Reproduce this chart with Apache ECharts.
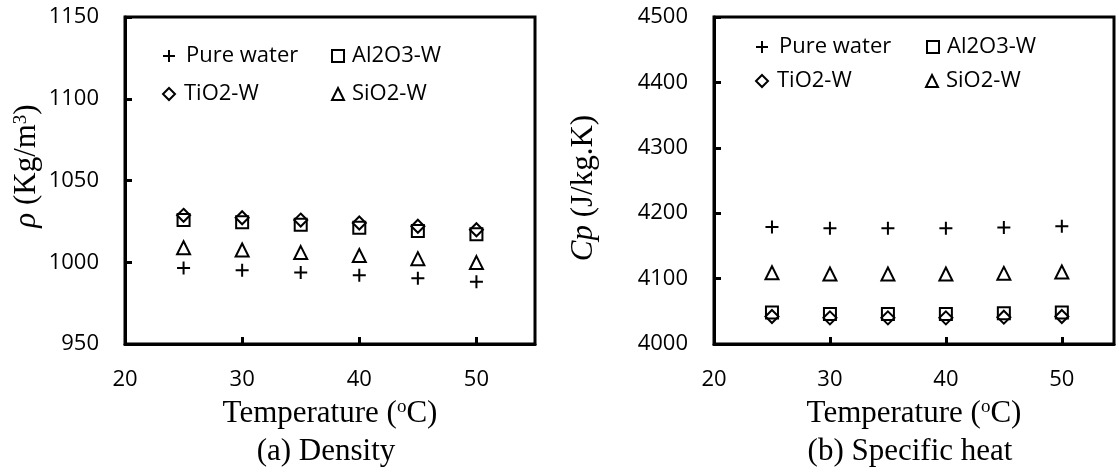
<!DOCTYPE html>
<html>
<head>
<meta charset="utf-8">
<script src="https://cdn.jsdelivr.net/npm/echarts@6/dist/echarts.min.js"></script>
<style>
  html, body { margin: 0; padding: 0; background: #fff; }
  #chart { width: 1119px; height: 474px; }
</style>
</head>
<body>
<div id="chart"></div>
<script>
// ---- data ----
const temperatures = [25, 30, 35, 40, 45, 50];
const seriesNames = ['Pure water', 'Al2O3-W', 'TiO2-W', 'SiO2-W'];
const densityWater = [996.5, 995.1, 993.7, 992.1, 990.2, 988.0];
const densityAl2O3 = [1025.8, 1024.4, 1023.0, 1021.1, 1019.1, 1017.1];
const densityTiO2 = [1028.7, 1027.2, 1025.8, 1024.0, 1022.0, 1019.9];
const densitySiO2 = [1008.9, 1007.5, 1005.9, 1004.1, 1002.2, 999.8];
const cpWater = [4179, 4177, 4177, 4177, 4178, 4180];
const cpAl2O3 = [4048, 4046, 4046, 4046, 4047, 4048];
const cpTiO2 = [4042, 4040, 4040, 4040, 4041, 4042];
const cpSiO2 = [4109, 4107, 4107, 4107, 4108, 4110];
const xAxisTitle = 'Temperature ({s|o}C)';
const captionA = '(a) Density';
const captionB = '(b) Specific heat';

// ---- styling ----
const SANS = 'Open Sans';
const SERIF = 'Liberation Serif';
const PLUS = 'path://M0,7H14M7,0V14';
const symbols = { 'Pure water': PLUS, 'Al2O3-W': 'rect', 'TiO2-W': 'diamond', 'SiO2-W': 'triangle' };
const sizes = { 'Pure water': 13, 'Al2O3-W': 12, 'TiO2-W': 13, 'SiO2-W': 13 };

function pairs(arr) { return temperatures.map((t, i) => [t, arr[i]]); }

function scatter(name, arr, idx) {
  return {
    type: 'scatter', name: name, xAxisIndex: idx, yAxisIndex: idx,
    data: pairs(arr), symbol: symbols[name], symbolSize: sizes[name],
    itemStyle: { color: 'rgba(0,0,0,0)', borderColor: '#000', borderWidth: 2, opacity: 1 },
    emphasis: { disabled: true }, silent: true
  };
}

function xAxis(idx, max) {
  return {
    gridIndex: idx, type: 'value', min: 20, max: max, interval: 10,
    axisLine: { show: true, lineStyle: { color: '#000', width: 3 } },
    axisTick: { show: true, inside: true, length: 7, lineStyle: { color: '#000', width: 3 } },
    axisLabel: { margin: 25, showMaxLabel: false, color: '#000', fontFamily: SANS, fontSize: 22,
                 formatter: v => String(v) },
    splitLine: { show: false },
    name: xAxisTitle, nameLocation: 'middle', nameGap: 54,
    nameTextStyle: {
      fontFamily: SERIF, fontSize: 31, color: '#000',
      rich: { s: { fontFamily: SERIF, fontSize: 19, color: '#000', verticalAlign: 'top' } }
    }
  };
}

function yAxis(idx, min, max, interval) {
  return {
    gridIndex: idx, type: 'value', min: min, max: max, interval: interval,
    axisLine: { show: true, lineStyle: { color: '#000', width: 3 } },
    axisTick: { show: true, inside: true, length: 7, lineStyle: { color: '#000', width: 3 } },
    axisLabel: { margin: 26, color: '#000', fontFamily: SANS, fontSize: 22, formatter: v => String(v) },
    splitLine: { show: false }
  };
}

function legend(name, left, top, pad) {
  return {
    data: [{ name: name, icon: symbols[name] }],
    left: left, top: top, itemWidth: 12, itemHeight: 12, padding: 0,
    selectedMode: false,
    itemStyle: { color: 'rgba(0,0,0,0)', borderColor: '#000', borderWidth: 2, opacity: 1 },
    textStyle: { fontFamily: SANS, fontSize: 22, color: '#000', padding: [0, 0, 0, pad] }
  };
}

const richY = {
  i: { fontFamily: SERIF, fontSize: 31, fontStyle: 'italic', color: '#000' },
  n: { fontFamily: SERIF, fontSize: 31, color: '#000' },
  s: { fontFamily: SERIF, fontSize: 19, color: '#000', verticalAlign: 'top' }
};

const option = {
  animation: false,
  backgroundColor: '#fff',
  grid: [
    { left: 125, top: 17, width: 410, height: 327, show: true, borderColor: '#000', borderWidth: 3, backgroundColor: 'transparent' },
    { left: 714, top: 17, width: 400, height: 327, show: true, borderColor: '#000', borderWidth: 3, backgroundColor: 'transparent' }
  ],
  xAxis: [xAxis(0, 55), xAxis(1, 54.5)],
  yAxis: [yAxis(0, 950, 1150, 50), yAxis(1, 4000, 4500, 100)],
  legend: [
    legend('Pure water', 162, 45, 6),
    legend('Al2O3-W', 331, 45, 3),
    legend('TiO2-W', 162, 83, 4),
    legend('SiO2-W', 331, 83, 3),
    legend('Pure water', 755, 36, 6),
    legend('Al2O3-W', 926, 36, 3),
    legend('TiO2-W', 755, 70, 4),
    legend('SiO2-W', 925, 70, 3)
  ],
  series: [
    scatter('Pure water', densityWater, 0),
    scatter('Al2O3-W', densityAl2O3, 0),
    scatter('TiO2-W', densityTiO2, 0),
    scatter('SiO2-W', densitySiO2, 0),
    scatter('Pure water', cpWater, 1),
    scatter('Al2O3-W', cpAl2O3, 1),
    scatter('TiO2-W', cpTiO2, 1),
    scatter('SiO2-W', cpSiO2, 1)
  ],
  graphic: [
    { type: 'text', x: 27, y: 166, rotation: Math.PI / 2, silent: true,
      style: { text: '{i|ρ}{n| (Kg/m}{s|3}{n|)}', rich: richY, align: 'center', verticalAlign: 'middle', fill: '#000' } },
    { type: 'text', x: 584, y: 188, rotation: Math.PI / 2, silent: true,
      style: { text: '{i|Cp}{n| (J/kg.K)}', rich: richY, align: 'center', verticalAlign: 'middle', fill: '#000' } },
    { type: 'text', x: 326, y: 452, silent: true,
      style: { text: captionA, font: '31px "Liberation Serif"', align: 'center', verticalAlign: 'middle', fill: '#000' } },
    { type: 'text', x: 910, y: 452, silent: true,
      style: { text: captionB, font: '31px "Liberation Serif"', align: 'center', verticalAlign: 'middle', fill: '#000' } }
  ]
};

const chart = echarts.init(document.getElementById('chart'), null, { renderer: 'canvas' });
chart.setOption(option);
</script>
</body>
</html>
